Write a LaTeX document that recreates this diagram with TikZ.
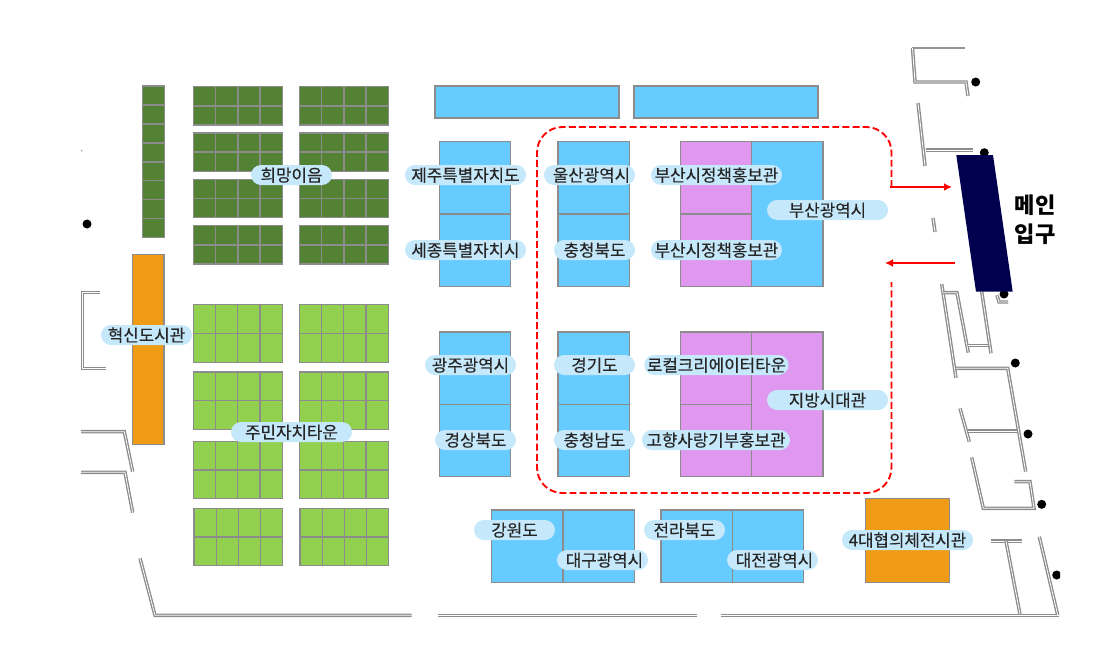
\documentclass[tikz,border=0pt]{standalone}
\usepackage{fontspec}
\setmainfont{Noto Sans CJK KR}
\newfontfamily\pillfont[FakeBold=0.3]{Noto Sans CJK KR}
\usetikzlibrary{arrows.meta}
\definecolor{darkleaf}{HTML}{548235}
\definecolor{lightleaf}{HTML}{92D050}
\definecolor{boothorange}{HTML}{F09B16}
\definecolor{boothblue}{HTML}{66CBFF}
\definecolor{boothpink}{HTML}{E097EF}
\definecolor{pillblue}{HTML}{C5E8FB}
\definecolor{gatenavy}{HTML}{00004F}
\tikzset{
  booth/.style={draw=black!45,line width=1pt},
  wall/.style={draw=black!45,line width=1pt,double=white,double distance=0.6pt,line join=miter},
  pill/.style={fill=pillblue,rounded corners=7.5pt,inner sep=0pt,minimum height=15pt,
    text=black!85,font=\pillfont\fontsize{12.6}{14}\selectfont,text height=10.4pt,text depth=0.7pt},
  post/.style={fill=black,draw=none},
  route/.style={red,line width=1.4pt},
  flow/.style={route,line width=1.2pt,-{Latex[length=6pt,width=6pt]}}
}
% booths: x y cellwidth cellheight cols rows colour
\newcommand{\booths}[7]{%
  \draw[booth,fill=#7] (#1,#2) rectangle +({#5*#3},{#6*#4});
  \ifnum#5>1 \foreach \c in {2,...,#5}{\draw[booth] ({#1+(\c-1)*#3},#2) -- +(0,{#6*#4});}\fi
  \ifnum#6>1 \foreach \r in {2,...,#6}{\draw[booth] (#1,{#2+(\r-1)*#4}) -- +({#5*#3},0);}\fi}
\begin{document}
\begin{tikzpicture}[x=0.75pt,y=-0.75pt]
  \useasboundingbox (0,0) rectangle (1104,664);

  % Drawing walls on the left
  \draw[wall] (100,292.7) -- (82.7,292.7) -- (82.7,368.3) -- (106,368.3);
  \draw[wall] (81,431.7) -- (124.3,431.7) -- (132.7,471.7);
  \draw[wall] (81,472.3) -- (125,472.3) -- (132.7,512.7);
  \draw[wall] (140,558.3) -- (155,615.3) -- (411.7,615.3);
  \draw[wall] (438.3,615.3) -- (696.7,615.3);
  \draw[wall] (720.7,615.3) -- (1059,615.3);

  % Drawing walls on the right
  \draw[black!42,line width=0.8pt] (965,48) -- (912,48);
  \draw[wall] (912.5,48) -- (915,82) -- (966,82) -- (968,96);
  \draw[wall] (918,103) -- (925,166);
  \draw[wall] (926,150) -- (973,150);
  \draw[wall] (933,218) -- (935,232);
  \draw[wall] (941.7,284) -- (956,378);
  \draw[wall] (943,292.7) -- (957,292.7) -- (968.3,352.7);
  \draw[wall] (968,345.7) -- (990,345.7);
  \draw[wall] (981.7,291.7) -- (991,353.3);
  \draw[wall] (997,295) -- (999,302) -- (1008,302);
  \draw[wall] (956,368.3) -- (1007.7,368.3) -- (1025.7,471.7);
  \draw[wall] (960,408.3) -- (969.3,441.7);
  \draw[wall] (968.3,431) -- (1017.3,431);
  \draw[wall] (971.7,457.3) -- (983.3,508.3) -- (1034,508.3) -- (1030,481.7) -- (1014.3,481.7);
  \draw[wall] (991,541) -- (1022.3,541);
  \draw[wall] (1006,541) -- (1020,614.3);
  \draw[wall] (1039.3,536.7) -- (1057.7,615);

  % Marking posts
  \fill[post] (87,224) circle (4.5);
  \fill[post] (975.7,82) circle (4.5);
  \fill[post] (984.3,152.7) circle (4.5);
  \fill[post] (1004,294) circle (4.5);
  \fill[post] (1015.3,363) circle (4.5);
  \fill[post] (1028,434) circle (4.5);
  \fill[post] (1041.7,504.3) circle (4.5);
  \begin{scope}
    \clip (1040,560) rectangle (1060,590);
    \fill[post] (1056.7,575) circle (4.5);
  \end{scope}
  \fill[black!40] (81.7,150.7) circle (0.9);

  % Drawing dark green booths
  \booths{142.3}{86}{22.3}{18.96}{1}{8}{darkleaf}
  \foreach \y in {86.7,132.9,179.3,225.7}{
    \booths{193.4}{\y}{22.25}{19.2}{4}{2}{darkleaf}
    \booths{299.4}{\y}{22.25}{19.2}{4}{2}{darkleaf}
  }

  % Drawing light green booths
  \foreach \y in {304.8,372,441.3}{
    \booths{193.4}{\y}{22.2}{28.7}{4}{2}{lightleaf}
    \booths{299.4}{\y}{22.2}{28.7}{4}{2}{lightleaf}
  }
  \booths{194}{508.3}{22.2}{28.6}{4}{2}{lightleaf}
  \booths{300}{508.3}{22.2}{28.6}{4}{2}{lightleaf}

  % Drawing orange booths
  \booths{132.3}{254.3}{31.7}{190.4}{1}{1}{boothorange}
  \booths{865.5}{498.7}{84.2}{83.7}{1}{1}{boothorange}

  % Drawing blue booths
  \booths{435}{86}{184}{32}{1}{1}{boothblue}
  \booths{634}{86}{184}{32}{1}{1}{boothblue}
  \booths{439.4}{141.7}{71.3}{72.3}{1}{2}{boothblue}
  \booths{558}{141.7}{71.3}{72.3}{1}{2}{boothblue}
  \booths{439.4}{332}{71.3}{72.2}{1}{2}{boothblue}
  \booths{558}{332}{71.3}{72.2}{1}{2}{boothblue}
  \booths{751.7}{141.7}{71.3}{144.6}{1}{1}{boothblue}
  \booths{491.3}{510}{71.7}{72.3}{2}{1}{boothblue}
  \booths{661}{510}{71.4}{72.3}{2}{1}{boothblue}

  % Drawing pink booths
  \booths{680.4}{141.7}{71.3}{72.3}{1}{2}{boothpink}
  \booths{680.4}{332}{71.3}{72.2}{1}{2}{boothpink}
  \booths{751.7}{332}{71.3}{144.4}{1}{1}{boothpink}

  % Drawing dashed area
  \draw[route,dash pattern=on 5.2pt off 2.4pt,rounded corners=19pt]
    (891.5,187) -- (891.5,127) -- (537,127) -- (537,493) -- (891.5,493) -- (891.5,282);

  % Drawing main gate
  \fill[gatenavy] (956.3,155) -- (993,155) -- (1012.7,291.7) -- (976,291.7) -- cycle;
  \coordinate (flowin) at (890,187);
  \coordinate (gatein) at (952,187);
  \coordinate (gateout) at (955,263);
  \coordinate (flowout) at (885,263);
  \draw[flow] (flowin) -- (gatein);
  \draw[flow] (gateout) -- (flowout);
  \node[font=\fontsize{16.6}{21.8}\bfseries\selectfont,align=center,inner sep=0pt] (gate) at (1035,219.5) {메인\\입구};

  % Marking labels
  \node[pill,minimum width=60.75pt] (hope) at (291.5,175) {희망이음};
  \node[pill,minimum width=90.75pt] (town) at (291.5,432) {주민자치타운};
  \node[pill,minimum width=68.25pt] (city) at (146.5,335) {혁신도시관};
  \node[pill,minimum width=90.75pt] (jeju) at (465.5,175) {제주특별자치도};
  \node[pill,minimum width=90.75pt] (sejong) at (465.5,250) {세종특별자치시};
  \node[pill,minimum width=68.25pt] (ulsan) at (589.5,175) {\hspace{3pt}울산광역시};
  \node[pill,minimum width=60.75pt] (chungbuk) at (594.5,250) {충청북도\hspace{3pt}};
  \node[pill,minimum width=98.25pt] (policya) at (716.5,175) {부산시정책홍보관};
  \node[pill,minimum width=98.25pt] (policyb) at (716.5,250) {부산시정책홍보관};
  \node[pill,minimum width=90.75pt] (busan) at (827.5,210) {부산광역시\hspace{3pt}};
  \node[pill,minimum width=68.25pt] (gwangju) at (470.5,365) {광주광역시};
  \node[pill,minimum width=60.75pt] (gyeongbuk) at (475.5,440) {경상북도};
  \node[pill,minimum width=60.75pt] (gyeonggi) at (594.5,365) {경기도\hspace{3pt}};
  \node[pill,minimum width=60.75pt] (chungnam) at (594.5,440) {충청남도\hspace{3pt}};
  \node[pill,minimum width=108.25pt] (creator) at (716.5,365) {로컬크리에이터타운};
  \node[pill,minimum width=111pt] (hometown) at (716,440) {고향사랑기부홍보관};
  \node[pill,minimum width=90.75pt] (local) at (827.5,400) {지방시대관\hspace{3pt}};
  \node[pill,minimum width=60.75pt] (gangwon) at (514.5,530) {강원도\hspace{1.5pt}};
  \node[pill,minimum width=68.25pt] (daegu) at (602.5,560) {\hspace{3pt}대구광역시};
  \node[pill,minimum width=60.75pt] (jeonbuk) at (684.5,530) {전라북도\hspace{1.5pt}};
  \node[pill,minimum width=68.25pt] (daejeon) at (772.5,560) {\hspace{3pt}대전광역시};
  \node[pill,minimum width=98.25pt] (council) at (907.5,540) {4대협의체전시관};
\end{tikzpicture}
\end{document}
